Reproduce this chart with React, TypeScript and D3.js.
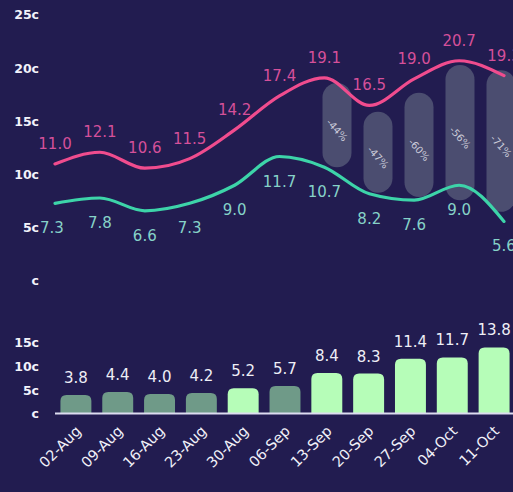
import React from "react";
import * as d3 from "d3";

const dates = ["02-Aug","09-Aug","16-Aug","23-Aug","30-Aug","06-Sep","13-Sep","20-Sep","27-Sep","04-Oct","11-Oct"];
const pinkValues = [11.0, 12.1, 10.6, 11.5, 14.2, 17.4, 19.1, 16.5, 19.0, 20.7, 19.3];
const tealValues = [7.3, 7.8, 6.6, 7.3, 9.0, 11.7, 10.7, 8.2, 7.6, 9.0, 5.6];
const barValues = [3.8, 4.4, 4.0, 4.2, 5.2, 5.7, 8.4, 8.3, 11.4, 11.7, 13.8];
const barHighlight = [false, false, false, false, true, false, true, true, true, true, true];
const pillDates = ["13-Sep","20-Sep","27-Sep","04-Oct","11-Oct"];
const pillTop = [18.6, 15.9, 17.7, 20.3, 19.8];
const pillBottom = [10.7, 8.3, 7.9, 7.6, 6.5];
const pillLabels = ["-44%","-47%","-60%","-56%","-71%"];
const topTicks = [0, 5, 10, 15, 20, 25];
const barTicks = [0, 5, 10, 15];

const W = 513, H = 492;
const BG = "#221c50";
const FONT = "'DejaVu Sans', sans-serif";

export default function App() {
  const xLine = d3.scalePoint<string>().domain(dates).range([55, 504]);
  const yTop = d3.scaleLinear().domain([0, 25]).range([281, 15]);
  const xPill = d3.scalePoint<string>().domain(dates).range([91, 501]);
  const xBar = d3.scaleBand<string>().domain(dates).range([55, 515]).paddingInner(0.26).paddingOuter(0.13);
  const yBar = d3.scaleLinear().domain([0, 15]).range([413, 341.75]);

  const line = d3.line<number>()
    .x((_, i) => xLine(dates[i]) as number)
    .y((d) => yTop(d))
    .curve(d3.curveMonotoneX);

  const pillW = 29;
  const bw = xBar.bandwidth();
  const r = 6;
  const barPath = (x: number, y0: number, y1: number) => {
    const h = y0 - y1;
    const rr = Math.min(r, h / 2);
    return `M${x},${y0} L${x},${y1 + rr} Q${x},${y1} ${x + rr},${y1} L${x + bw - rr},${y1} Q${x + bw},${y1} ${x + bw},${y1 + rr} L${x + bw},${y0} Z`;
  };

  return (
    <div style={{ position: "fixed", left: 0, top: 0, width: W, height: H, background: BG }}>
      <svg width={W} height={H} style={{ display: "block", fontFamily: FONT }}>
        <rect x={0} y={0} width={W} height={H} fill={BG} />
        {topTicks.map((t) => (
          <text key={"tt" + t} x={39} y={yTop(t)} dy="0.35em" textAnchor="end" fill="#f2f2fa" fontSize={12.5} fontWeight={600}>
            {t === 0 ? "c" : `${t}c`}
          </text>
        ))}
        {pillDates.map((d, i) => {
          const cx = xPill(d) as number;
          const y1 = yTop(pillTop[i]);
          const y0 = yTop(pillBottom[i]);
          const cy = (y0 + y1) / 2 + 5;
          return (
            <g key={"p" + d}>
              <rect x={cx - pillW / 2} y={y1} width={pillW} height={y0 - y1} rx={pillW / 2} fill="#505373" fillOpacity={0.9} />
              <text x={cx} y={cy} textAnchor="middle" dy="0.35em" fill="#c9c9d8" fontSize={10} transform={`rotate(48 ${cx} ${cy})`}>
                {pillLabels[i]}
              </text>
            </g>
          );
        })}
        <path d={line(pinkValues) || ""} fill="none" stroke="#f04c8e" strokeWidth={3.2} strokeLinecap="round" />
        <path d={line(tealValues) || ""} fill="none" stroke="#3dd4a9" strokeWidth={3.2} strokeLinecap="round" />
        {pinkValues.map((v, i) => (
          <text key={"pl" + i} x={xLine(dates[i]) as number} y={yTop(v) - 15} textAnchor="middle" fill="#d5509a" fontSize={15}>
            {v.toFixed(1)}
          </text>
        ))}
        {tealValues.map((v, i) => (
          <text key={"tl" + i} x={(xLine(dates[i]) as number) - (i === 0 ? 3 : 0)} y={yTop(v) + 30} textAnchor="middle" fill="#86d2c8" fontSize={15}>
            {v.toFixed(1)}
          </text>
        ))}
        {barTicks.map((t) => (
          <text key={"bt" + t} x={39} y={yBar(t) + 1} dy="0.35em" textAnchor="end" fill="#f2f2fa" fontSize={12.5} fontWeight={600}>
            {t === 0 ? "c" : `${t}c`}
          </text>
        ))}
        {barValues.map((v, i) => {
          const x = xBar(dates[i]) as number;
          return (
            <g key={"b" + i}>
              <path d={barPath(x, yBar(0), yBar(v))} fill={barHighlight[i] ? "#b6fdb8" : "#6f9a88"} />
              <text x={x + bw / 2} y={yBar(v) - 12} textAnchor="middle" fill="#eeeef6" fontSize={15}>
                {v.toFixed(1)}
              </text>
            </g>
          );
        })}
        <line x1={55} x2={W} y1={yBar(0) + 0.5} y2={yBar(0) + 0.5} stroke="#dcdcf0" strokeWidth={2} />
        {dates.map((d) => {
          const cx = (xBar(d) as number) + bw / 2 + 6;
          const cy = 432;
          return (
            <text key={"xl" + d} x={cx} y={cy} textAnchor="end" fill="#f0f0f8" fontSize={14.5} transform={`rotate(-45 ${cx} ${cy})`}>
              {d}
            </text>
          );
        })}
      </svg>
    </div>
  );
}
